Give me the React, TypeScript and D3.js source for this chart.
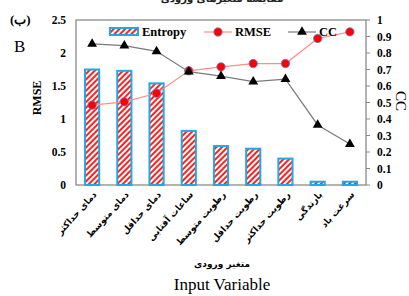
import * as d3 from "d3";

const categories = [
  "دمای حداکثر",
  "دمای متوسط",
  "دمای حداقل",
  "ساعات آفتابی",
  "رطوبت متوسط",
  "رطوبت حداقل",
  "رطوبت حداکثر",
  "بارندگی",
  "سرعت باد",
];
const entropy = [1.75, 1.73, 1.54, 0.82, 0.59, 0.55, 0.4, 0.05, 0.05];
const rmse = [1.21, 1.26, 1.39, 1.73, 1.79, 1.84, 1.84, 2.22, 2.32];
const cc = [0.855, 0.845, 0.81, 0.687, 0.66, 0.626, 0.642, 0.364, 0.248];
const leftTicks = [0, 0.5, 1, 1.5, 2, 2.5];
const rightTicks = [0, 0.1, 0.2, 0.3, 0.4, 0.5, 0.6, 0.7, 0.8, 0.9, 1];

const W = 409;
const H = 296;
const m = { left: 76, right: 366, top: 20, bottom: 185 };
const blue = "#22a9e3";
const serif = "'Liberation Serif', 'Times New Roman', serif";

const App = () => {
  const x = d3
    .scaleBand<string>()
    .domain(categories)
    .range([m.left, m.right])
    .paddingInner(0.56)
    .paddingOuter(0.28);
  const yL = d3.scaleLinear().domain([0, 2.5]).range([m.bottom, m.top]);
  const yR = d3.scaleLinear().domain([0, 1]).range([m.bottom, m.top]);
  const cx = (c: string) => (x(c) ?? 0) + x.bandwidth() / 2;

  const rmseLine = d3
    .line<number>()
    .x((d, i) => cx(categories[i]))
    .y((d) => yL(d));
  const ccLine = d3
    .line<number>()
    .x((d, i) => cx(categories[i]))
    .y((d) => yR(d));
  const tri = d3.symbol().type(d3.symbolTriangle).size(42)();

  return (
    <svg
      width={W}
      height={H}
      style={{ position: "absolute", left: 0, top: 0, background: "#fff" }}
    >
      <defs>
        <pattern
          id="stripes"
          width="4"
          height="4"
          patternUnits="userSpaceOnUse"
          patternTransform="rotate(-45)"
        >
          <rect width="4" height="4" fill="#fff" />
          <rect width="4" height="2" fill="#ff2020" />
        </pattern>
      </defs>

      {/* title, cut off at the top edge as in the source */}
      <text
        x={222}
        y={2}
        textAnchor="middle"
        fontFamily="DejaVu Sans"
        fontWeight="bold"
        fontSize={10}
        fill="#222"
      >
        مقایسه متغیرهای ورودی
      </text>

      <text x={10} y={24} fontFamily={serif} fontWeight="bold" fontSize={13}>
        (ب)
      </text>
      <text x={14} y={52} fontFamily={serif} fontSize={17}>
        B
      </text>

      {/* frame */}
      <rect
        x={m.left}
        y={m.top}
        width={m.right - m.left}
        height={m.bottom - m.top}
        fill="none"
        stroke="#8a8a8a"
        strokeWidth={1.3}
      />

      {/* left axis */}
      {leftTicks.map((t) => (
        <text
          key={"l" + t}
          x={66}
          y={yL(t) + 4}
          textAnchor="end"
          fontFamily={serif}
          fontWeight="bold"
          fontSize={11.5}
        >
          {t}
        </text>
      ))}
      <text
        transform={`translate(41,${98}) rotate(-90)`}
        textAnchor="middle"
        fontFamily={serif}
        fontWeight="bold"
        fontSize={12}
      >
        RMSE
      </text>

      {/* right axis */}
      {rightTicks.map((t) => (
        <g key={"r" + t}>
          <line
            x1={m.right}
            x2={m.right + 4}
            y1={yR(t)}
            y2={yR(t)}
            stroke="#8a8a8a"
          />
          <text
            x={377}
            y={yR(t) + 4}
            fontFamily={serif}
            fontWeight="bold"
            fontSize={11.5}
          >
            {t}
          </text>
        </g>
      ))}
      <text
        transform={`translate(396,${101}) rotate(90)`}
        textAnchor="middle"
        fontFamily={serif}
        fontSize={15}
      >
        CC
      </text>

      {/* bars */}
      {categories.map((c, i) => (
        <rect
          key={c}
          x={x(c)}
          y={yL(entropy[i])}
          width={x.bandwidth()}
          height={yL(0) - yL(entropy[i])}
          fill="url(#stripes)"
          stroke={blue}
          strokeWidth={2}
        />
      ))}

      {/* RMSE */}
      <path d={rmseLine(rmse) ?? ""} fill="none" stroke="#ff8c8c" strokeWidth={1.2} />
      {rmse.map((v, i) => (
        <circle
          key={"c" + i}
          cx={cx(categories[i])}
          cy={yL(v)}
          r={4.2}
          fill="#ff0000"
          stroke="#6a7fd0"
          strokeWidth={0.8}
        />
      ))}

      {/* CC */}
      <path d={ccLine(cc) ?? ""} fill="none" stroke="#7a7a7a" strokeWidth={1.2} />
      {cc.map((v, i) => (
        <path
          key={"t" + i}
          d={tri ?? ""}
          transform={`translate(${cx(categories[i])},${yR(v)})`}
          fill="#000"
        />
      ))}

      {/* legend */}
      <rect x={110} y={28} width={28} height={7} fill="url(#stripes)" stroke={blue} strokeWidth={2} />
      <text x={142} y={36} fontFamily={serif} fontWeight="bold" fontSize={12.5}>
        Entropy
      </text>
      <line x1={204} x2={232} y1={32} y2={32} stroke="#ff8c8c" strokeWidth={1.2} />
      <circle cx={218} cy={32} r={4.2} fill="#ff0000" stroke="#6a7fd0" strokeWidth={0.8} />
      <text x={235} y={36} fontFamily={serif} fontWeight="bold" fontSize={12.5}>
        RMSE
      </text>
      <line x1={288} x2={316} y1={32} y2={32} stroke="#7a7a7a" strokeWidth={1.2} />
      <path d={tri ?? ""} transform="translate(302,32)" fill="#000" />
      <text x={319} y={36} fontFamily={serif} fontWeight="bold" fontSize={12.5}>
        CC
      </text>

      {/* category labels */}
      {categories.map((c) => (
        <text
          key={"x" + c}
          transform={`translate(${cx(c) + 5},${195}) rotate(-48)`}
          textAnchor="end"
          fontFamily="DejaVu Sans"
          fontWeight="bold"
          fontSize={9}
        >
          {c}
        </text>
      ))}

      <text
        x={222}
        y={267}
        textAnchor="middle"
        fontFamily="DejaVu Sans"
        fontWeight="bold"
        fontSize={9}
      >
        متغیر ورودی
      </text>
      <text x={222} y={290} textAnchor="middle" fontFamily={serif} fontSize={17}>
        Input Variable
      </text>
    </svg>
  );
};

export default App;
